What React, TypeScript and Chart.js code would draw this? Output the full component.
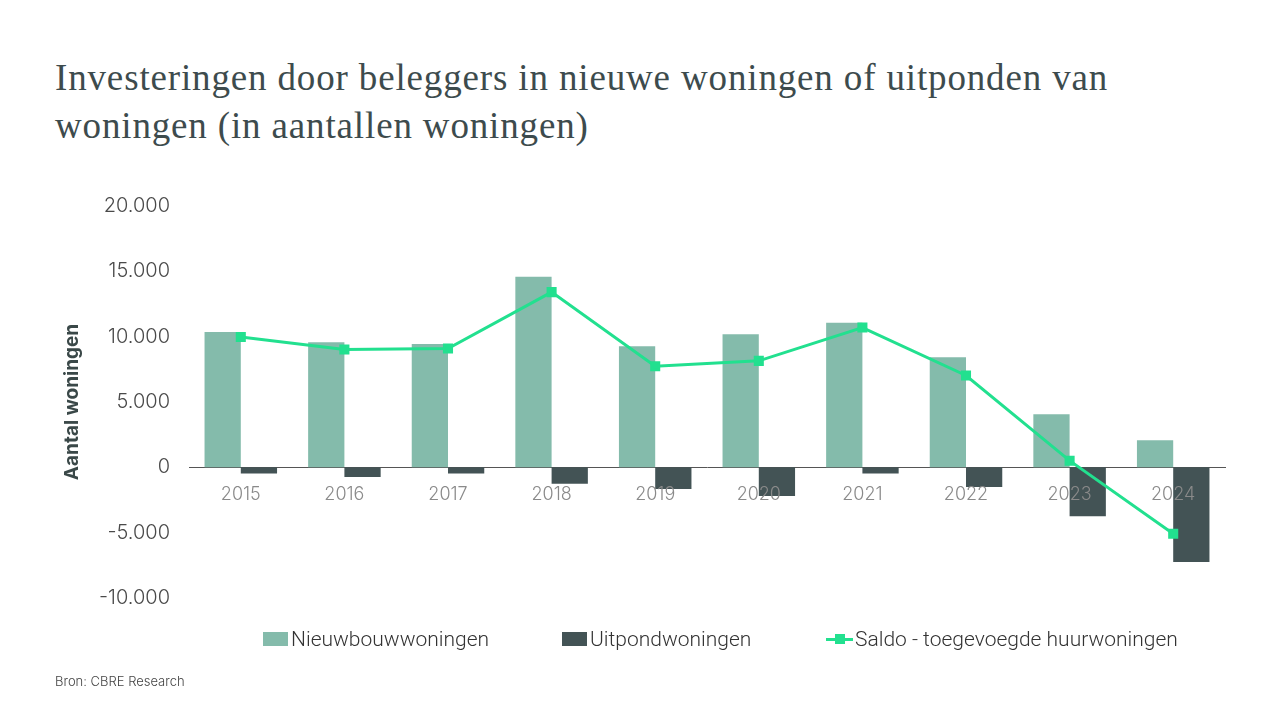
import React, { useEffect, useRef } from "react";
import { Chart, registerables } from "chart.js";

Chart.register(...registerables);

const years = ["2015", "2016", "2017", "2018", "2019", "2020", "2021", "2022", "2023", "2024"];
const nieuwbouw = [10350, 9580, 9430, 14580, 9270, 10190, 11060, 8430, 4060, 2070];
const uitpond = [-480, -740, -480, -1250, -1660, -2200, -480, -1500, -3750, -7250];
const saldo = [9980, 9020, 9090, 13410, 7740, 8150, 10700, 7030, 510, -5080];

const TITLE_LINES = [
  "Investeringen door beleggers in nieuwe woningen of uitponden van",
  "woningen (in aantallen woningen)",
];
const LEGEND_LABELS = ["Nieuwbouwwoningen", "Uitpondwoningen", "Saldo - toegevoegde huurwoningen"];
const Y_TITLE = "Aantal woningen";
const SOURCE = "Bron: CBRE Research";

const C_NIEUW = "#84BBAB";
const C_UIT = "#435355";
const C_SALDO = "#22E08F";

function fmt(v: number): string {
  const s = Math.abs(v).toString().replace(/\B(?=(\d{3})+(?!\d))/g, ".");
  return (v < 0 ? "-" : "") + s;
}

export default function App() {
  const ref = useRef<HTMLCanvasElement | null>(null);

  useEffect(() => {
    if (!ref.current) return;
    const chart = new Chart(ref.current, {
      type: "bar",
      data: {
        labels: years,
        datasets: [
          {
            type: "line",
            label: LEGEND_LABELS[2],
            data: saldo,
            borderColor: C_SALDO,
            backgroundColor: C_SALDO,
            borderWidth: 3,
            pointStyle: "rect",
            pointRadius: 5,
            pointBackgroundColor: C_SALDO,
            pointBorderColor: C_SALDO,
            tension: 0,
            order: 0,
          } as any,
          {
            label: LEGEND_LABELS[0],
            data: nieuwbouw,
            backgroundColor: C_NIEUW,
            barPercentage: 1,
            categoryPercentage: 0.7,
            order: 1,
          },
          {
            label: LEGEND_LABELS[1],
            data: uitpond,
            backgroundColor: C_UIT,
            barPercentage: 1,
            categoryPercentage: 0.7,
            order: 1,
          },
        ],
      },
      options: {
        animation: false,
        responsive: false,
        maintainAspectRatio: false,
        layout: { padding: { left: 0, right: 55, top: 206, bottom: 122 } },
        plugins: {
          legend: { display: false },
          tooltip: { enabled: false },
          title: { display: false },
        },
        scales: {
          x: {
            position: { y: 0 } as any,
            grid: { display: false, drawTicks: false },
            border: { display: true, color: "#555555", width: 1 },
            ticks: {
              z: 1,
              color: "#8a8a8a",
              font: { family: "Inter", size: 18, weight: "300" as any },
              padding: 16,
              maxRotation: 0,
            } as any,
          },
          y: {
            min: -10000,
            max: 20000,
            grid: { display: false, drawTicks: false },
            border: { display: false },
            afterFit: (scale: any) => {
              scale.width = 189;
            },
            ticks: {
              stepSize: 5000,
              color: "#4a4a4a",
              padding: 19,
              font: { family: "Inter", size: 20, weight: "300" as any },
              callback: (v: any) => fmt(Number(v)),
            },
            title: {
              display: true,
              text: Y_TITLE,
              color: "#3a4848",
              font: { family: "Inter", size: 19, weight: "bold" },
              padding: { top: 61, bottom: 0 },
            },
          },
        },
      },
    });
    return () => chart.destroy();
  }, []);

  const legendItem = (left: number, label: string, kind: "box" | "line", color: string) => (
    <div
      style={{
        position: "absolute",
        left,
        top: 627,
        height: 24,
        display: "flex",
        alignItems: "center",
        whiteSpace: "nowrap",
      }}
    >
      {kind === "box" ? (
        <span style={{ width: 25, height: 14, background: color, display: "inline-block", marginRight: 3 }} />
      ) : (
        <span style={{ position: "relative", width: 27, height: 14, display: "inline-block", marginRight: 2 }}>
          <span style={{ position: "absolute", left: 0, top: 5.5, width: 27, height: 3, background: color }} />
          <span style={{ position: "absolute", left: 9, top: 2, width: 10, height: 10, background: color }} />
        </span>
      )}
      <span style={{ fontFamily: "Roboto", fontSize: 21, color: "#333333", fontWeight: 300 }}>{label}</span>
    </div>
  );

  return (
    <div style={{ position: "absolute", left: 0, top: 0, width: 1280, height: 720, background: "#ffffff", overflow: "hidden" }}>
      <div
        style={{
          position: "absolute",
          left: 55,
          top: 54,
          fontFamily: "'Liberation Serif', serif",
          fontSize: 37,
          lineHeight: "48px",
          letterSpacing: "0.85px",
          color: "#3d4b4d",
          whiteSpace: "nowrap",
        }}
      >
        <div>{TITLE_LINES[0]}</div>
        <div>{TITLE_LINES[1]}</div>
      </div>
      <canvas ref={ref} width={1280} height={720} style={{ position: "absolute", left: 0, top: 0, width: 1280, height: 720 }} />
      {legendItem(263, LEGEND_LABELS[0], "box", C_NIEUW)}
      {legendItem(562, LEGEND_LABELS[1], "box", C_UIT)}
      {legendItem(826, LEGEND_LABELS[2], "line", C_SALDO)}
      <div
        style={{
          position: "absolute",
          left: 55,
          top: 673,
          fontFamily: "Inter",
          fontSize: 13,
          color: "#444444",
          fontWeight: 300,
        }}
      >
        {SOURCE}
      </div>
    </div>
  );
}
